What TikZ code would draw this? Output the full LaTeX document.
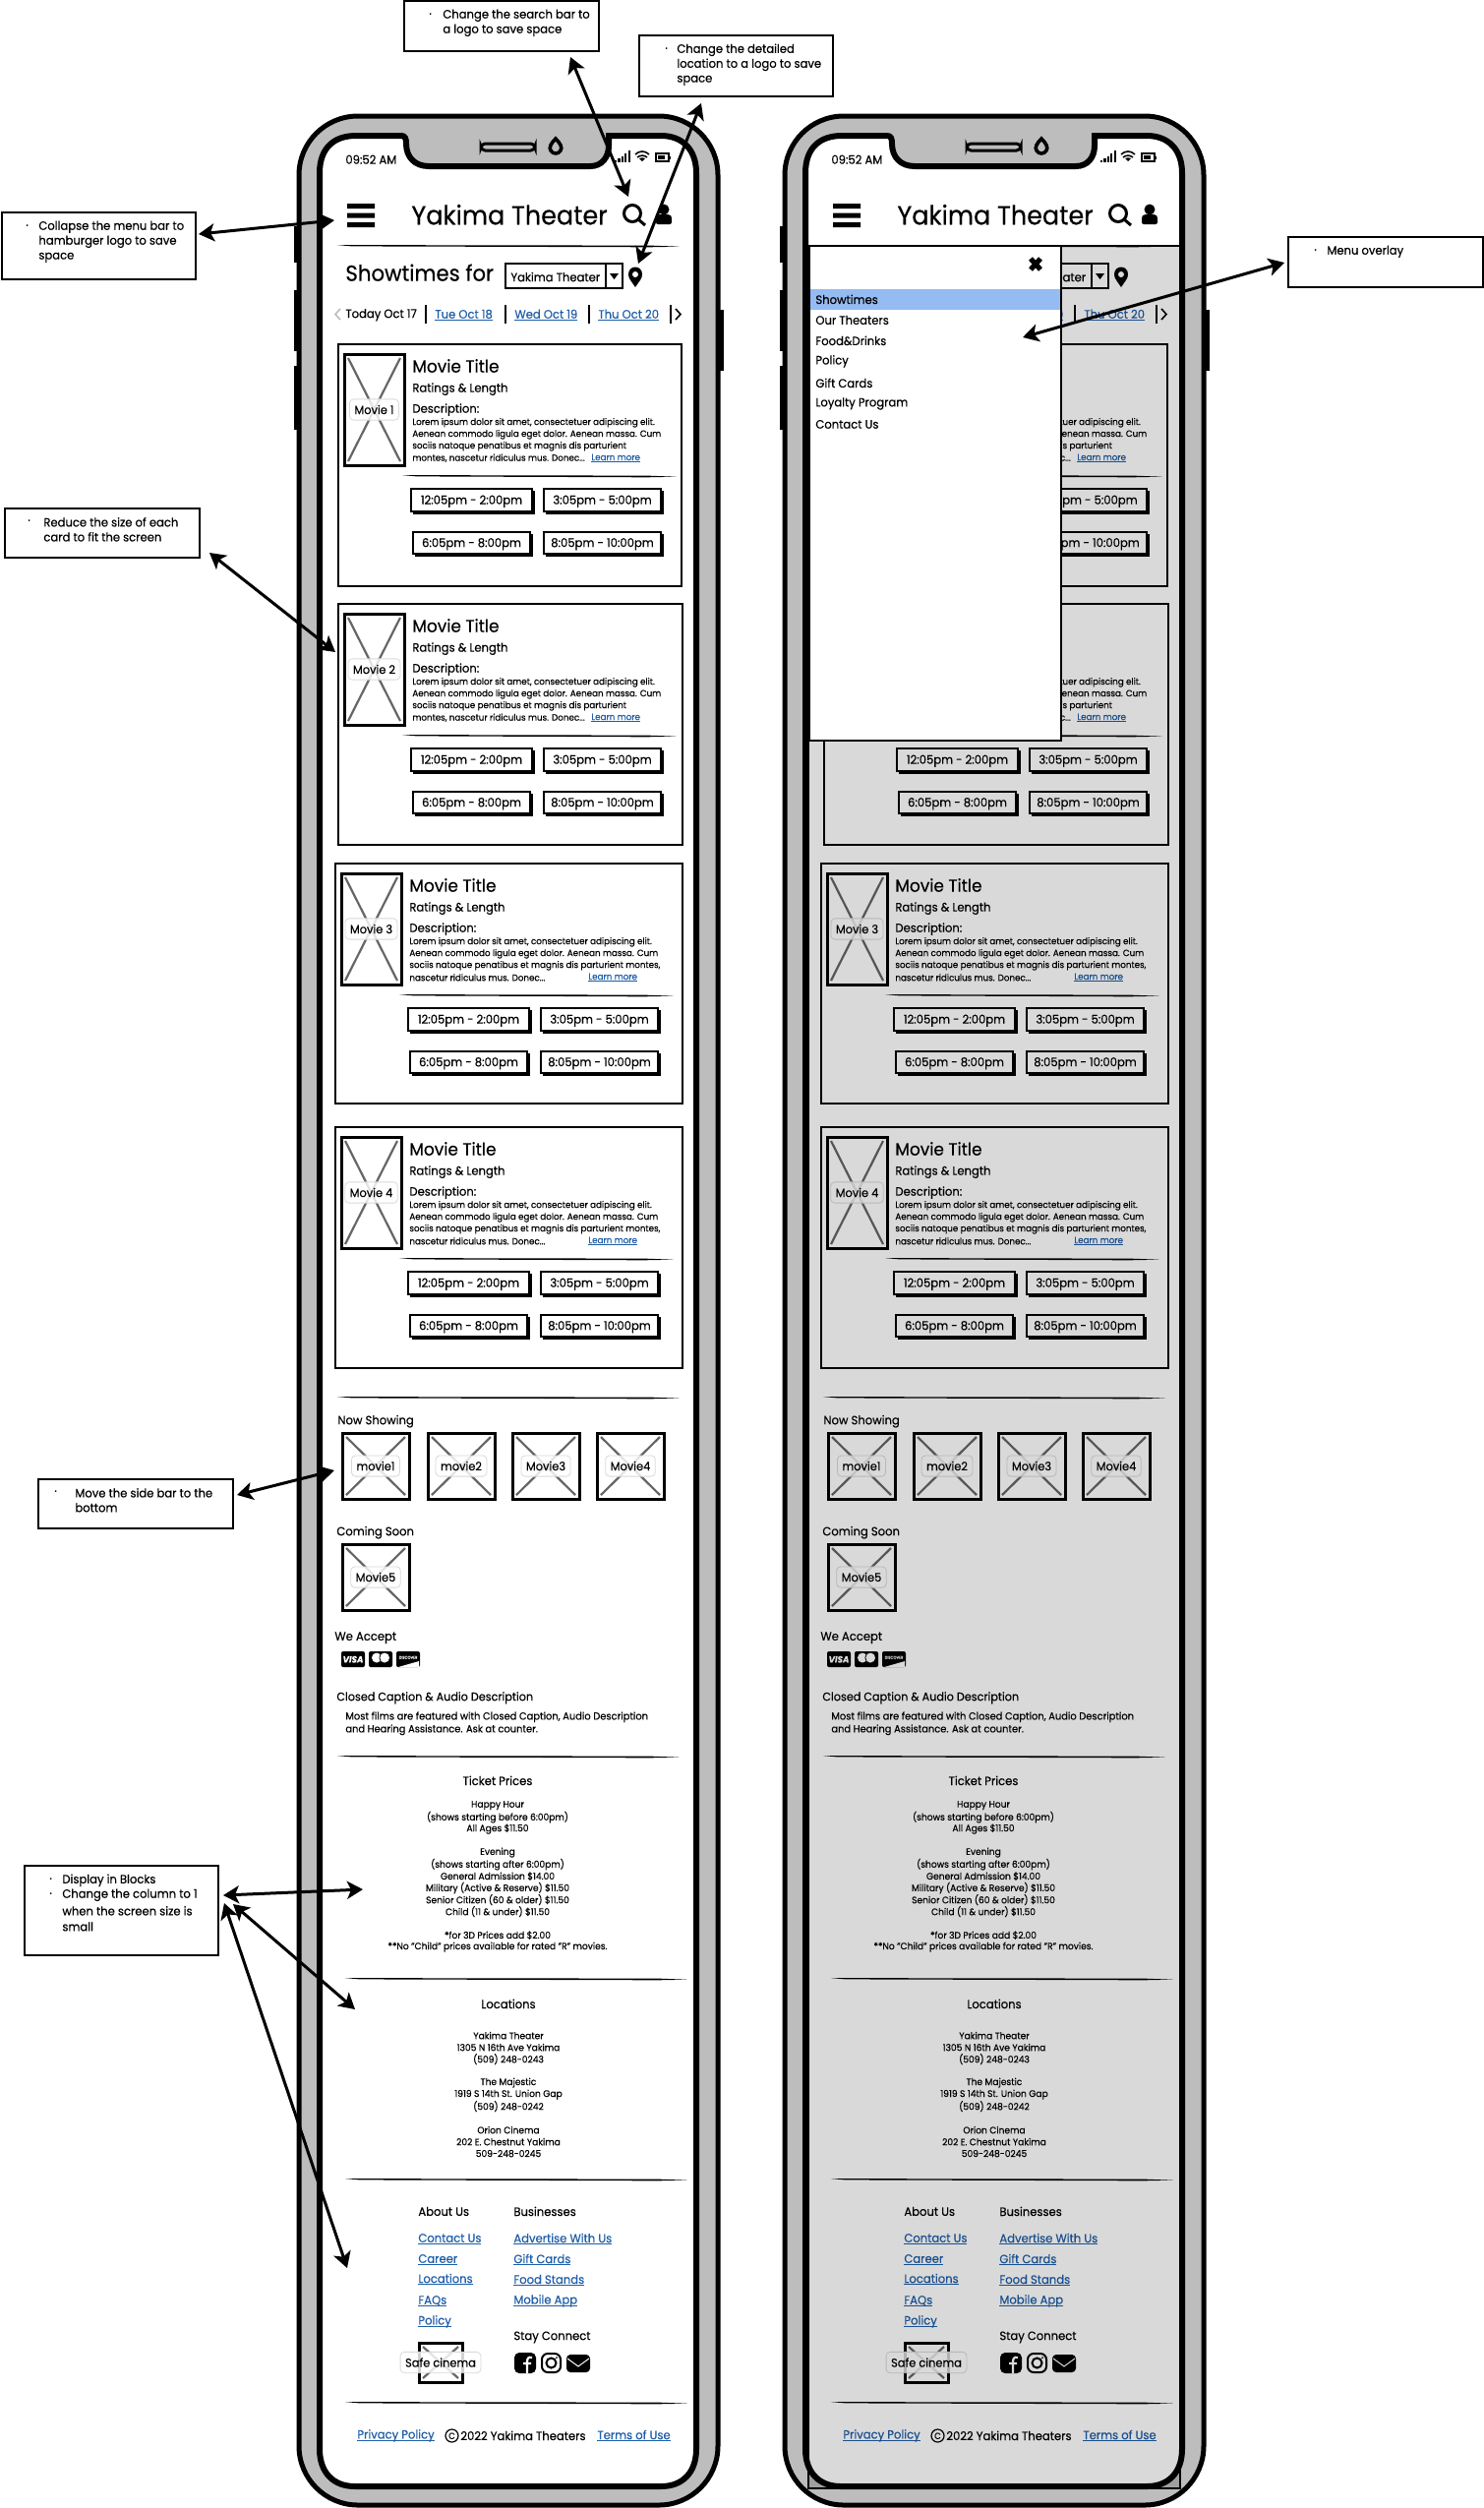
\documentclass[tikz,border=0pt]{standalone}
\usepackage{fontspec}
\setmainfont{Poppins}[FakeStretch=0.95,FakeBold=0.35]
\usetikzlibrary{arrows.meta,fit,calc}
\definecolor{frame}{HTML}{BDBDBD}
\definecolor{lnk}{HTML}{1F5FA8}
\definecolor{xgrey}{HTML}{666666}
\definecolor{menusel}{HTML}{94BBF2}
\newcounter{nn}
\newcommand\myul[1]{\leavevmode\setbox0\hbox{#1}\rlap{\vrule height -.55pt depth .95pt width \wd0}\box0 }
\newcommand\TT[4]{\stepcounter{nn}\node[#1] (t\arabic{nn}) at (#2,#3) {#4};}
\newcommand\LK[4]{\stepcounter{nn}\node[#1,text=lnk] (t\arabic{nn}) at (#2,#3) {\myul{#4}};}
\newcommand\BX[6]{\coordinate (#1a) at (#3,#4);\coordinate (#1b) at (#5,#6);\node[#2,fit=(#1a)(#1b)] (#1) {};}
\newcommand\DV[3]{\fill (#1,#3-.9) -- (#2-30,#3-.4) -- (#2,#3+.7) -- (#2-30,#3+1.3) -- (#1+15,#3+.4) -- cycle;}
\newcommand\PH[5]{\draw[line width=1.5pt] (#1,#2) rectangle (#3,#4);
 \draw[xgrey,line width=1.1pt] (#1+4,#2+4) -- (#3-4,#4-4) (#3-4,#2+4) -- (#1+4,#4-4);
 \stepcounter{nn}\node[phlabel] (t\arabic{nn}) at ($(#1,#2)!.5!(#3,#4)$) {#5};}
\newcommand\BTN[5]{\fill (#1+2,#2+2) rectangle (#3+3,#4+3);\draw[fill=white,line width=1.3pt] (#1,#2) rectangle (#3,#4);
 \stepcounter{nn}\node[tc] (t\arabic{nn}) at ($(#1,#2)!.5!(#3,#4)$) {#5};}
\newcommand\CARD[9]{% dx dy rightx bottom label l1 l2 l3 l4
 \draw[line width=1pt,fill=white] (344+#1,350+#2) rectangle (#3,#4);
 \begin{scope}[shift={(#1,#2)}]
 \PH{350}{360}{411}{473}{#5}
 \TT{tl,yshift=.6pt,font=\fontsize{8.9}{10}\selectfont}{419}{372}{Movie Title}
 \TT{tl,yshift=.3pt}{419}{395}{Ratings \& Length}
 \TT{tl,yshift=.3pt}{419}{416}{Description:}
 \TT{tiny}{419}{429}{#6}\TT{tiny}{419}{441}{#7}\TT{tiny}{419}{453}{#8}\TT{tiny}{419}{465}{#9}
 \LK{tiny}{601}{465}{Learn more}
 \DV{409}{688}{484}
 \BTN{418}{497}{541}{520}{12:05pm - 2:00pm}
 \BTN{553}{497}{672}{520}{3:05pm - 5:00pm}
 \BTN{420}{541}{539}{563}{6:05pm - 8:00pm}
 \BTN{553}{541}{672}{563}{8:05pm - 10:00pm}
 \end{scope}}
\newcommand\PHONE{%
 \foreach \a/\b in {230/267,295/357,372/437}{\fill (299,\a) rectangle (303,\b);}
 \fill (731,315) rectangle (736,377);
 \draw[line width=2.5pt,fill=frame,rounded corners=30pt] (304,118) rectangle (730,2547);
 \draw[line width=3pt,fill=white] (325,176) .. controls (325,150) and (340,138) .. (362,138) -- (408,138) .. controls (412,138) and (413,141) .. (413,146) .. controls (413,160) and (422,169) .. (436,169) -- (600,169) .. controls (612,169) and (619,160) .. (619,148) -- (619,138) -- (672,138) .. controls (694,138) and (708,152) .. (708,176) -- (708,2490) .. controls (708,2514) and (694,2528) .. (672,2528) -- (361,2528) .. controls (339,2528) and (325,2514) .. (325,2490) -- cycle;
 \draw[line width=1.5pt,rounded corners=2.2pt,fill=frame] (489,146) rectangle (544,153);
 \draw[line width=1.8pt,fill=frame] (565,141) .. controls (570,146) and (572,150) .. (570,153) .. controls (568,157) and (562,157) .. (560,153) .. controls (558,150) and (560,146) .. (565,141) -- cycle;
 \TT{tl}{351}{161}{09:52 AM}
 \foreach \i/\h in {0/2,1/4,2/6,3/9,4/12}{\fill (625+\i*3.4,165) rectangle (627.2+\i*3.4,165-\h);}
 \draw[line width=.8pt] (646,157) .. controls (650,153) and (656,153) .. (660,157) (648,160) .. controls (651,157.5) and (655,157.5) .. (658,160);
 \fill (653,164) -- (650,161) .. controls (652,160) and (654,160) .. (656,161) -- cycle;
 \draw[line width=.6pt] (667,156) rectangle (680,164);\fill (669,158) rectangle (676,162);\fill (680.5,158.5) rectangle (681.5,161.5);
 \fill (353,207) rectangle (381,212) (353,216.5) rectangle (381,221.5) (353,226) rectangle (381,231);
 \TT{tl,yshift=1pt,font=\fontsize{13.4}{15}\selectfont}{418}{219}{Yakima Theater}
 \draw[line width=1.5pt] (643,217) circle[radius=8.5] (649,223) -- (656,229);
 \fill (675,213) circle[radius=5.5];
 \fill[rounded corners=1pt] (667,228) -- (667,222) .. controls (668,217) and (682,217) .. (683,222) -- (683,228) -- cycle;
 \DV{343}{691}{250}
 \TT{tl,yshift=1pt,font=\fontsize{11.2}{12}\selectfont}{351}{278}{Showtimes for}
 \draw[line width=1pt] (514,268) rectangle (633,293) (616,268) -- (616,293);
 \TT{tl,yshift=.3pt}{519}{281}{Yakima Theater}
 \fill (620,278) -- (629,278) -- (624.5,284) -- cycle;
 \fill (646,292) .. controls (642,286) and (639,283) .. (639,279) .. controls (639,269) and (653,269) .. (653,279) .. controls (653,283) and (650,286) .. (646,292) -- cycle;
 \fill[white] (646,279) circle[radius=3];
 \draw[frame,line width=.8pt] (346,314) -- (341,319.5) -- (346,325);
 \TT{tl}{351}{319}{Today Oct 17}
 \foreach \s in {433,514,599,682}{\draw[line width=.9pt] (\s,310) -- (\s,329);}
 \LK{tl}{442}{319}{Tue Oct 18}\LK{tl}{523}{319}{Wed Oct 19}\LK{tl}{608}{319}{Thu Oct 20}
 \draw[line width=.8pt] (687,314) -- (692,319.5) -- (687,325);
 \CARD{0}{0}{693}{596}{Movie 1}{Lorem ipsum dolor sit amet, consectetuer adipiscing elit.}{Aenean commodo ligula eget dolor. Aenean massa. Cum}{sociis natoque penatibus et magnis dis parturient}{montes, nascetur ridiculus mus. Donec...}
 \CARD{0}{264}{694}{859}{Movie 2}{Lorem ipsum dolor sit amet, consectetuer adipiscing elit.}{Aenean commodo ligula eget dolor. Aenean massa. Cum}{sociis natoque penatibus et magnis dis parturient}{montes, nascetur ridiculus mus. Donec...}
 \CARD{-3}{528}{694}{1122}{Movie 3}{Lorem ipsum dolor sit amet, consectetuer adipiscing elit.}{Aenean commodo ligula eget dolor. Aenean massa. Cum}{sociis natoque penatibus et magnis dis parturient montes,}{nascetur ridiculus mus. Donec...}
 \CARD{-3}{796}{694}{1391}{Movie 4}{Lorem ipsum dolor sit amet, consectetuer adipiscing elit.}{Aenean commodo ligula eget dolor. Aenean massa. Cum}{sociis natoque penatibus et magnis dis parturient montes,}{nascetur ridiculus mus. Donec...}
 \DV{343}{691}{1421}
 \TT{th}{343}{1444}{Now Showing}
 \PH{348}{1457}{416}{1524}{movie1}\PH{435}{1457}{503}{1524}{movie2}\PH{521}{1457}{589}{1524}{Movie3}\PH{607}{1457}{675}{1524}{Movie4}
 \TT{th}{342}{1557}{Coming Soon}
 \PH{348}{1570}{416}{1637}{Movie5}
 \TT{th}{340}{1664}{We Accept}
 \fill[rounded corners=1pt] (347,1679) rectangle (371,1695) (375,1679) rectangle (399,1695) (403,1679) rectangle (427,1695);
 \TT{tc,text=white,font=\fontsize{4.6}{5}\selectfont\bfseries\itshape}{359}{1686}{VISA}
 \fill[white] (383,1685.5) circle[radius=5] (391,1685.5) circle[radius=5];
 \draw[line width=.4pt] (387,1682) .. controls (385.5,1684) and (385.5,1687) .. (387,1689);
 \TT{tc,text=white,font=\fontsize{2}{3}\selectfont}{415}{1684}{DISCOVER}
 \fill[white] (405,1695) -- (426,1689) -- (426,1695) -- cycle;
 \TT{tl,font=\fontsize{5.9}{7}\selectfont}{342}{1725}{Closed Caption \& Audio Description}
 \TT{tm}{351}{1745}{Most films are featured with Closed Caption, Audio Description}
 \TT{tm}{351}{1758}{and Hearing Assistance. Ask at counter.}
 \DV{343}{691}{1786}
 \TT{tc,yshift=.4pt}{506}{1810}{Ticket Prices}
 \foreach \y/\s in {1835/Happy Hour,1847/(shows starting before 6:00pm),1859/All Ages \$11.50,1883/Evening,1895/(shows starting after 6:00pm),1907/General Admission \$14.00,1919/Military (Active \& Reserve) \$11.50,1931/Senior Citizen (60 \& older) \$11.50,1943/Child (11 \& under) \$11.50,1967/*for 3D Prices add \$2.00,1979/**No "Child" prices available for rated "R" movies.}{\TT{tcs}{506}{\y}{\s}}
 \DV{351}{699}{2012}
 \TT{tc,yshift=.4pt}{517}{2037}{Locations}
 \foreach \y/\s in {2069/Yakima Theater,2081/1305 N 16th Ave Yakima,2093/(509) 248-0243,2117/The Majestic,2129/1919 S 14th St. Union Gap,2141/(509) 248-0242,2165/Orion Cinema,2177/202 E. Chestnut Yakima,2189/509-248-0245}{\TT{tcs}{517}{\y}{\s}}
 \DV{351}{699}{2216}
 \TT{tl,yshift=.4pt}{425}{2248}{About Us}\TT{tl,yshift=.4pt}{522}{2248}{Businesses}
 \foreach \y/\s in {2276/Contact Us,2297/Career,2317/Locations,2339/FAQs,2360/Policy}{\LK{tl,yshift=.4pt}{425}{\y}{\s}}
 \foreach \y/\s in {2276/Advertise With Us,2297/Gift Cards,2318/Food Stands,2339/Mobile App}{\LK{tl,yshift=.4pt}{522}{\y}{\s}}
 \TT{tl,yshift=.4pt}{522}{2376}{Stay Connect}
 \PH{426}{2382}{470}{2422}{Safe cinema}
 \fill[rounded corners=2.5pt] (523,2392) rectangle (545,2413);
 \draw[white,line width=1.1pt] (541,2397) .. controls (537,2396) and (536,2398) .. (536,2402) -- (536,2413) (532,2403) -- (540,2403);
 \draw[line width=1pt,rounded corners=3pt] (551,2393) rectangle (570,2412);
 \draw[line width=1pt] (560.5,2402.5) circle[radius=5];\fill (566,2397) circle[radius=1];
 \fill[rounded corners=2pt] (576,2394) rectangle (600,2412);
 \draw[white,line width=.5pt] (577,2398) -- (588,2406) -- (599,2398);
 \DV{351}{699}{2443}
 \LK{tl,yshift=.4pt}{363}{2476}{Privacy Policy}
 \draw[line width=.6pt] (459.5,2476.5) circle[radius=6.5];
 \TT{tc,font=\fontsize{4.5}{5}\selectfont}{459.5}{2475.5}{C}
 \TT{tl,yshift=.4pt}{468}{2476}{2022 Yakima Theaters}
 \LK{tl,yshift=.4pt}{607}{2476}{Terms of Use}}
\tikzset{
 tl/.style={anchor=west,inner sep=0pt,yshift=-.6pt,font=\fontsize{6.1}{7}\selectfont},
 th/.style={anchor=west,inner sep=0pt,yshift=-.6pt,font=\fontsize{6.1}{7}\selectfont},
 tiny/.style={anchor=west,inner sep=0pt,yshift=-.4pt,font=\fontsize{4.6}{5}\selectfont},
 tm/.style={anchor=west,inner sep=0pt,yshift=-.4pt,font=\fontsize{5.2}{6}\selectfont},
 tc/.style={anchor=center,inner sep=0pt,yshift=-.6pt,font=\fontsize{6.1}{7}\selectfont},
 tcs/.style={anchor=center,inner sep=0pt,yshift=-.3pt,font=\fontsize{4.8}{5}\selectfont},
 phlabel/.style={anchor=center,inner xsep=2.5pt,inner ysep=3pt,font=\fontsize{6}{7}\selectfont,fill=white,fill opacity=.82,text opacity=1,draw=black!15,draw opacity=1,line width=.4pt,rounded corners=2pt},
 notebox/.style={draw,fill=white,line width=1pt,inner sep=0pt},
 notetext/.style={anchor=west,inner sep=0pt,yshift=-.4pt,font=\fontsize{6.1}{7}\selectfont},
 conn/.style={line width=1.5pt,{Stealth[length=8pt,width=9pt,inset=2pt]}-{Stealth[length=8pt,width=9pt,inset=2pt]}},
}
\begin{document}
\begin{tikzpicture}[x=.5pt,y=-.5pt]
\useasboundingbox (0,0) rectangle (1509,2550);
% left phone
\PHONE
% right phone
\begin{scope}[shift={(494,0)}]
\PHONE
\end{scope}
% dim overlay and menu of the right phone
\fill[black,opacity=.15] (822,250) rectangle (1200,2530);
\draw[line width=.8pt] (822,250) rectangle (1200,2530);
\draw[fill=white,line width=1pt] (823,250) rectangle (1079,753);
\fill[menusel] (824,294) rectangle (1078,315);
\draw[line width=2.6pt] (1048,263) -- (1058,274) (1058,263) -- (1048,274);
\foreach \y/\s in {304/Showtimes,325/Our Theaters,346/Food\&Drinks,367/Policy,389/Gift Cards,410/Loyalty Program,431/Contact Us}{\TT{tl,yshift=.4pt}{829}{\y}{\s}}
% notes
\BX{nSearch}{notebox}{411}{1}{609}{52}
\TT{notetext}{436}{15}{·}\TT{notetext}{450}{15}{Change the search bar to}\TT{notetext}{450}{30}{a logo to save space}
\BX{nLoc}{notebox}{650}{36}{847}{98}
\TT{notetext}{676}{50}{·}\TT{notetext}{688}{50}{Change the detailed}\TT{notetext}{688}{65}{location to a logo to save}\TT{notetext}{688}{81}{space}
\BX{nMenu}{notebox}{2}{216}{199}{284}
\TT{notetext}{26}{230}{·}\TT{notetext}{39}{230}{Collapse the menu bar to}\TT{notetext}{39}{245}{hamburger logo to save}\TT{notetext}{39}{261}{space}
\BX{nOverlay}{notebox}{1310}{241}{1508}{292}
\TT{notetext}{1336}{255}{·}\TT{notetext}{1349}{255}{Menu overlay}
\BX{nCard}{notebox}{5}{517}{203}{567}
\TT{notetext}{28}{530}{·}\TT{notetext}{44}{530}{Reduce the size of each}\TT{notetext}{44}{545}{card to fit the screen}
\BX{nSide}{notebox}{39}{1504}{237}{1554}
\TT{notetext}{55}{1517}{·}\TT{notetext}{76}{1517}{Move the side bar to the}\TT{notetext}{76}{1532}{bottom}
\BX{nBlock}{notebox}{25}{1897}{222}{1988}
\TT{notetext}{50}{1911}{·}\TT{notetext}{63}{1911}{Display in Blocks}\TT{notetext}{50}{1926}{·}\TT{notetext}{63}{1926}{Change the column to 1}\TT{notetext}{63}{1942}{when the screen size is}\TT{notetext}{63}{1958}{small}
% connector ends
\coordinate (aS1) at (580,58);\coordinate (aS2) at (639,200);
\coordinate (aL1) at (713,105);\coordinate (aL2) at (649,268);
\coordinate (aM1) at (202,238);\coordinate (aM2) at (340,224);
\coordinate (aO1) at (1306,267);\coordinate (aO2) at (1040,343);
\coordinate (aC1) at (213,562);\coordinate (aC2) at (341,663);
\coordinate (aD1) at (241,1520);\coordinate (aD2) at (340,1495);
\coordinate (aB1) at (227,1927);\coordinate (aB2) at (369,1921);
\coordinate (aE1) at (237,1936);\coordinate (aE2) at (361,2043);
\coordinate (aF1) at (228,1935);\coordinate (aF2) at (353,2306);
\foreach \p/\q in {aS1/aS2,aL1/aL2,aM1/aM2,aO1/aO2,aC1/aC2,aD1/aD2,aB1/aB2,aE1/aE2,aF1/aF2}{\draw[conn] (\p) -- (\q);}
\end{tikzpicture}
\end{document}
